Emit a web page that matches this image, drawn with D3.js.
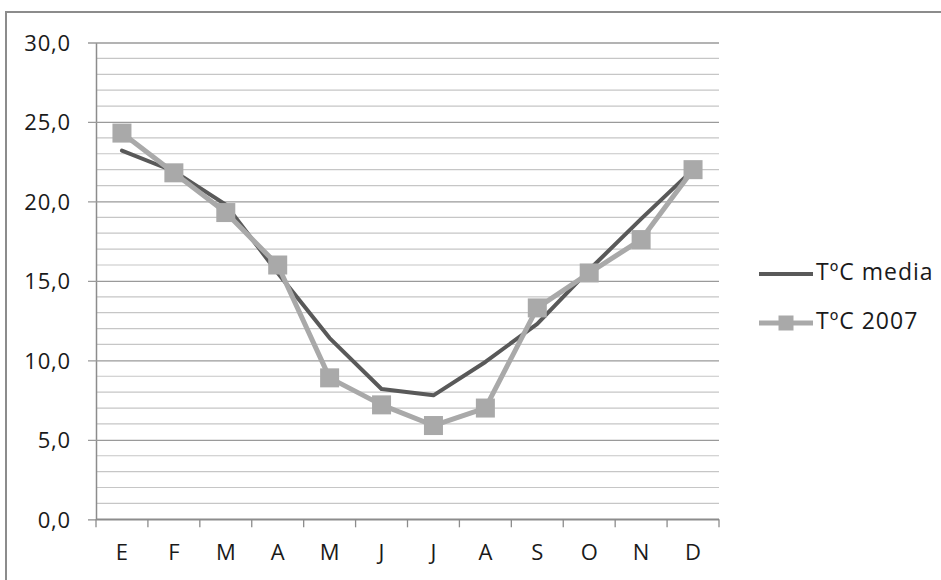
<!DOCTYPE html>
<html>
<head>
<meta charset="utf-8">
<script src="https://cdn.jsdelivr.net/npm/d3@7"></script>
<style>
  html, body { margin: 0; padding: 0; background: #fff; }
  svg { display: block; }
  text { font-family: "Open Sans", "DejaVu Sans", sans-serif; fill: #1a1a1a; }
</style>
</head>
<body>
<svg id="chart" width="941" height="580"></svg>
<script>
// Months (Spanish initials)
const months = ["E", "F", "M", "A", "M", "J", "J", "A", "S", "O", "N", "D"];
// Average monthly temperature (°C)
const tempMedia = [23.2, 21.9, 19.8, 15.5, 11.4, 8.2, 7.8, 9.9, 12.3, 15.7, 18.9, 22.0];
// Monthly temperature in 2007 (°C)
const temp2007 = [24.3, 21.8, 19.3, 16.0, 8.9, 7.2, 5.9, 7.0, 13.3, 15.5, 17.6, 22.0];
// Value axis labels
const yTicks = [0, 5, 10, 15, 20, 25, 30];
const seriesNames = ["TºC media", "TºC 2007"];

const svg = d3.select("#chart");
const plot = { left: 96, right: 719, top: 42.5, bottom: 519.3 };
const fontSize = "22px";
const spacing = "0.8px";

// Outer chart frame
svg.append("rect")
  .attr("x", 6).attr("y", 12)
  .attr("width", 960).attr("height", 600)
  .attr("fill", "none").attr("stroke", "#8c8c8c").attr("stroke-width", 2);

const x = d3.scaleBand()
  .domain(d3.range(months.length))
  .range([plot.left, plot.right])
  .paddingInner(0).paddingOuter(0);

const y = d3.scaleLinear().domain([0, 30]).range([plot.bottom, plot.top]);

const fmt = v => d3.format(".1f")(v).replace(".", ",");

// Horizontal gridlines every 1 °C, labelled ones every 5 °C
const grid = svg.append("g");
grid.selectAll("line.minor")
  .data(d3.range(1, 31).filter(v => v % 5 !== 0))
  .join("line")
  .attr("x1", plot.left).attr("x2", plot.right)
  .attr("y1", d => y(d)).attr("y2", d => y(d))
  .attr("stroke", "#c6c6c6").attr("stroke-width", 1.2);

// Value axis: major gridlines + outward ticks + labels
const yAxis = d3.axisLeft(y)
  .tickValues(yTicks)
  .tickFormat(fmt)
  .tickSize(-(plot.right - plot.left))
  .tickSizeOuter(0)
  .tickPadding(0);

const yG = svg.append("g")
  .attr("transform", `translate(${plot.left},0)`)
  .call(yAxis);
yG.select(".domain").attr("stroke", "#8c8c8c").attr("stroke-width", 1.5);
yG.selectAll(".tick line")
  .attr("x1", -8)
  .attr("stroke", d => d === 0 ? "#8c8c8c" : "#9a9a9a")
  .attr("stroke-width", 1.3);
yG.selectAll(".tick text")
  .attr("x", -25)
  .attr("dy", "0.35em")
  .style("font-size", fontSize)
  .style("letter-spacing", spacing)
  .style("font-family", "'Open Sans', sans-serif")
  .attr("fill", "#1a1a1a");

// Category axis
const xAxis = d3.axisBottom(x)
  .tickFormat(i => months[i])
  .tickSize(0)
  .tickPadding(0);
const xG = svg.append("g")
  .attr("transform", `translate(0,${plot.bottom})`)
  .call(xAxis);
xG.select(".domain").remove();
xG.selectAll(".tick text")
  .attr("y", 35)
  .attr("dy", "0")
  .style("font-size", fontSize)
  .style("font-family", "'Open Sans', sans-serif")
  .attr("fill", "#1a1a1a")
  .attr("dominant-baseline", "middle");

// Category axis line and boundary ticks
const bounds = d3.range(months.length).map(i => x(i)).concat([x(months.length - 1) + x.bandwidth()]);
svg.append("line")
  .attr("x1", plot.left).attr("x2", plot.right)
  .attr("y1", plot.bottom).attr("y2", plot.bottom)
  .attr("stroke", "#8c8c8c").attr("stroke-width", 1.5);
svg.append("g").selectAll("line")
  .data(bounds)
  .join("line")
  .attr("x1", d => d).attr("x2", d => d)
  .attr("y1", plot.bottom).attr("y2", plot.bottom + 8)
  .attr("stroke", "#8c8c8c").attr("stroke-width", 1.3);

const cx = i => x(i) + x.bandwidth() / 2;
const line = d3.line().x((d, i) => cx(i)).y(d => y(d));

// Average series
svg.append("path")
  .datum(tempMedia)
  .attr("d", line)
  .attr("fill", "none")
  .attr("stroke", "#595959")
  .attr("stroke-width", 4)
  .attr("stroke-linejoin", "round")
  .attr("stroke-linecap", "round");

// 2007 series
svg.append("path")
  .datum(temp2007)
  .attr("d", line)
  .attr("fill", "none")
  .attr("stroke", "#a9a9a9")
  .attr("stroke-width", 5)
  .attr("stroke-linejoin", "round");

const ms = 19;
svg.append("g").selectAll("rect")
  .data(temp2007)
  .join("rect")
  .attr("x", (d, i) => cx(i) - ms / 2)
  .attr("y", d => y(d) - ms / 2)
  .attr("width", ms).attr("height", ms)
  .attr("fill", "#a9a9a9");

// Legend
const legend = svg.append("g");
const lx1 = 759, lx2 = 813, ly = [274, 323];
legend.append("line")
  .attr("x1", lx1).attr("x2", lx2).attr("y1", ly[0]).attr("y2", ly[0])
  .attr("stroke", "#595959").attr("stroke-width", 4);
legend.append("line")
  .attr("x1", lx1).attr("x2", lx2).attr("y1", ly[1]).attr("y2", ly[1])
  .attr("stroke", "#a9a9a9").attr("stroke-width", 5);
legend.append("rect")
  .attr("x", (lx1 + lx2) / 2 - 7.5).attr("y", ly[1] - 7.5)
  .attr("width", 15).attr("height", 15)
  .attr("fill", "#a9a9a9");
legend.selectAll("text")
  .data(seriesNames)
  .join("text")
  .attr("x", 816)
  .attr("y", (d, i) => ly[i])
  .attr("dominant-baseline", "middle")
  .style("font-size", "23px")
  .style("letter-spacing", "1px")
  .text(d => d);
</script>
</body>
</html>
